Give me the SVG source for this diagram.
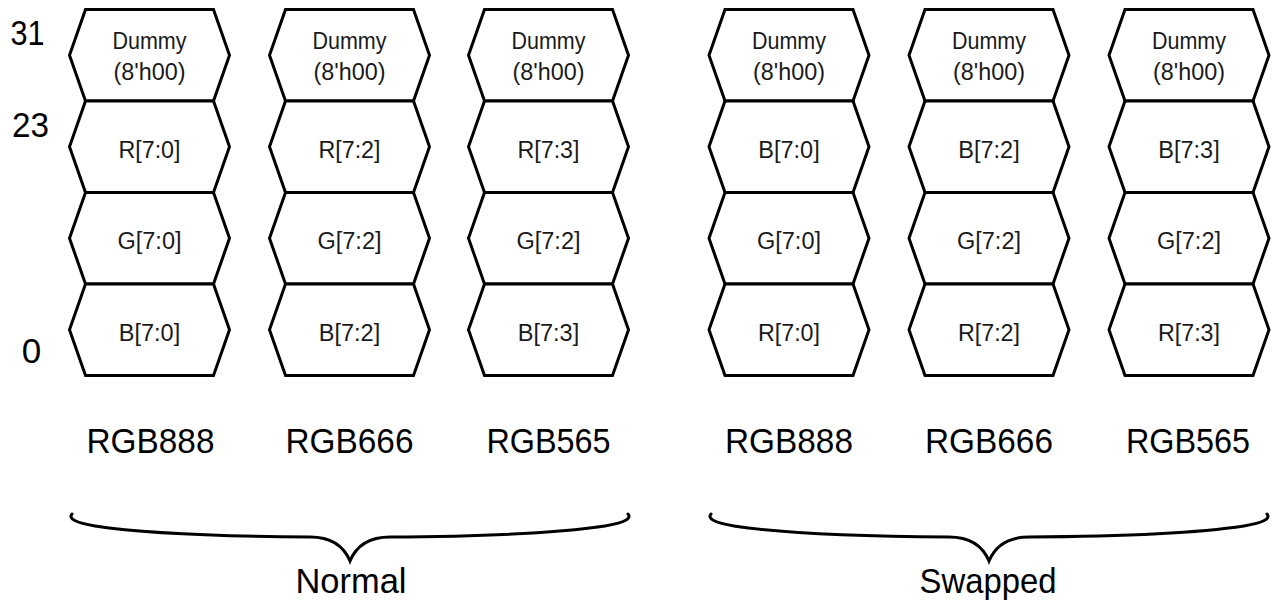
<svg xmlns="http://www.w3.org/2000/svg" width="1272" height="604" viewBox="0 0 1272 604">
<style>
.hex{fill:#fff;stroke:#000;stroke-width:3;stroke-linejoin:miter}
.lbl{font-family:"Liberation Sans",Arial,sans-serif;font-size:23.5px;fill:#1a1a1a;text-anchor:middle}
.big{font-family:"Liberation Sans",Arial,sans-serif;font-size:35px;fill:#000;text-anchor:middle}
.brace{fill:none;stroke:#000;stroke-width:3;stroke-linecap:round}
</style>
<defs>
<path id="h" class="hex" d="M -64,0 L 64,0 L 80,45.75 L 64,91.5 L -64,91.5 L -80,45.75 Z"/>
</defs>
<rect width="1272" height="604" fill="#fff"/>
<g id="bit-labels">
<text class="big" x="27.5" y="45" textLength="34" lengthAdjust="spacingAndGlyphs">31</text>
<text class="big" x="30.5" y="137" textLength="37" lengthAdjust="spacingAndGlyphs">23</text>
<text class="big" x="31.5" y="363">0</text>
</g>
<g id="c1">
<g id="c1-dummy"><use href="#h" x="149.5" y="9.5"/><text class="lbl" x="149.5" y="49" textLength="74" lengthAdjust="spacingAndGlyphs">Dummy</text><text class="lbl" x="149.5" y="80" textLength="72" lengthAdjust="spacingAndGlyphs">(8'h00)</text></g>
<g id="c1-r1"><use href="#h" x="149.5" y="101"/><text class="lbl" x="149.5" y="157.5" textLength="62" lengthAdjust="spacingAndGlyphs">R[7:0]</text></g>
<g id="c1-r2"><use href="#h" x="149.5" y="192.5"/><text class="lbl" x="149.5" y="249">G[7:0]</text></g>
<g id="c1-r3"><use href="#h" x="149.5" y="284"/><text class="lbl" x="149.5" y="340.5">B[7:0]</text></g>
<text class="big" x="150.5" y="453" textLength="128" lengthAdjust="spacingAndGlyphs">RGB888</text>
</g>
<g id="c2">
<g id="c2-dummy"><use href="#h" x="349.5" y="9.5"/><text class="lbl" x="349.5" y="49" textLength="74" lengthAdjust="spacingAndGlyphs">Dummy</text><text class="lbl" x="349.5" y="80" textLength="72" lengthAdjust="spacingAndGlyphs">(8'h00)</text></g>
<g id="c2-r1"><use href="#h" x="349.5" y="101"/><text class="lbl" x="349.5" y="157.5" textLength="62" lengthAdjust="spacingAndGlyphs">R[7:2]</text></g>
<g id="c2-r2"><use href="#h" x="349.5" y="192.5"/><text class="lbl" x="349.5" y="249">G[7:2]</text></g>
<g id="c2-r3"><use href="#h" x="349.5" y="284"/><text class="lbl" x="349.5" y="340.5">B[7:2]</text></g>
<text class="big" x="349.5" y="453" textLength="128" lengthAdjust="spacingAndGlyphs">RGB666</text>
</g>
<g id="c3">
<g id="c3-dummy"><use href="#h" x="548.5" y="9.5"/><text class="lbl" x="548.5" y="49" textLength="74" lengthAdjust="spacingAndGlyphs">Dummy</text><text class="lbl" x="548.5" y="80" textLength="72" lengthAdjust="spacingAndGlyphs">(8'h00)</text></g>
<g id="c3-r1"><use href="#h" x="548.5" y="101"/><text class="lbl" x="548.5" y="157.5" textLength="62" lengthAdjust="spacingAndGlyphs">R[7:3]</text></g>
<g id="c3-r2"><use href="#h" x="548.5" y="192.5"/><text class="lbl" x="548.5" y="249">G[7:2]</text></g>
<g id="c3-r3"><use href="#h" x="548.5" y="284"/><text class="lbl" x="548.5" y="340.5">B[7:3]</text></g>
<text class="big" x="548.5" y="453" textLength="124" lengthAdjust="spacingAndGlyphs">RGB565</text>
</g>
<g id="c4">
<g id="c4-dummy"><use href="#h" x="789" y="9.5"/><text class="lbl" x="789" y="49" textLength="74" lengthAdjust="spacingAndGlyphs">Dummy</text><text class="lbl" x="789" y="80" textLength="72" lengthAdjust="spacingAndGlyphs">(8'h00)</text></g>
<g id="c4-r1"><use href="#h" x="789" y="101"/><text class="lbl" x="789" y="157.5">B[7:0]</text></g>
<g id="c4-r2"><use href="#h" x="789" y="192.5"/><text class="lbl" x="789" y="249">G[7:0]</text></g>
<g id="c4-r3"><use href="#h" x="789" y="284"/><text class="lbl" x="789" y="340.5" textLength="62" lengthAdjust="spacingAndGlyphs">R[7:0]</text></g>
<text class="big" x="789" y="453" textLength="128" lengthAdjust="spacingAndGlyphs">RGB888</text>
</g>
<g id="c5">
<g id="c5-dummy"><use href="#h" x="989" y="9.5"/><text class="lbl" x="989" y="49" textLength="74" lengthAdjust="spacingAndGlyphs">Dummy</text><text class="lbl" x="989" y="80" textLength="72" lengthAdjust="spacingAndGlyphs">(8'h00)</text></g>
<g id="c5-r1"><use href="#h" x="989" y="101"/><text class="lbl" x="989" y="157.5">B[7:2]</text></g>
<g id="c5-r2"><use href="#h" x="989" y="192.5"/><text class="lbl" x="989" y="249">G[7:2]</text></g>
<g id="c5-r3"><use href="#h" x="989" y="284"/><text class="lbl" x="989" y="340.5" textLength="62" lengthAdjust="spacingAndGlyphs">R[7:2]</text></g>
<text class="big" x="989" y="453" textLength="128" lengthAdjust="spacingAndGlyphs">RGB666</text>
</g>
<g id="c6">
<g id="c6-dummy"><use href="#h" x="1189" y="9.5"/><text class="lbl" x="1189" y="49" textLength="74" lengthAdjust="spacingAndGlyphs">Dummy</text><text class="lbl" x="1189" y="80" textLength="72" lengthAdjust="spacingAndGlyphs">(8'h00)</text></g>
<g id="c6-r1"><use href="#h" x="1189" y="101"/><text class="lbl" x="1189" y="157.5">B[7:3]</text></g>
<g id="c6-r2"><use href="#h" x="1189" y="192.5"/><text class="lbl" x="1189" y="249">G[7:2]</text></g>
<g id="c6-r3"><use href="#h" x="1189" y="284"/><text class="lbl" x="1189" y="340.5" textLength="62" lengthAdjust="spacingAndGlyphs">R[7:3]</text></g>
<text class="big" x="1188" y="453" textLength="124" lengthAdjust="spacingAndGlyphs">RGB565</text>
</g>
<g id="connectors">
<path class="brace" d="M 72,514 Q 66,521 95,526 Q 160,536 310,537 Q 340,537 350,561 Q 360,537 390,537 Q 540,536 605,526 Q 634,521 628,514"/>
<path class="brace" d="M 711,514 Q 705,521 734,526 Q 799,536 949,537 Q 979,537 989,561 Q 999,537 1029,537 Q 1179,536 1244,526 Q 1273,521 1267,514"/>
</g>
<g id="group-labels">
<text class="big" x="351" y="593" textLength="111" lengthAdjust="spacingAndGlyphs">Normal</text>
<text class="big" x="988" y="593" textLength="137" lengthAdjust="spacingAndGlyphs">Swapped</text>
</g>
</svg>
